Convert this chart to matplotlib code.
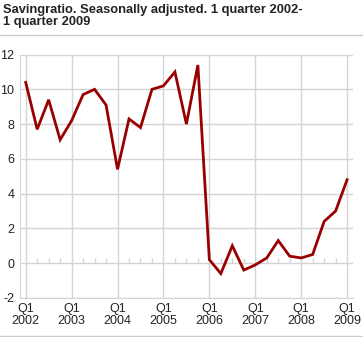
import numpy as np
import matplotlib
matplotlib.use("Agg")
import matplotlib.pyplot as plt
from matplotlib.lines import Line2D

plt.rcParams['font.family'] = ['Liberation Sans', 'DejaVu Sans']

# Savingratio, quarterly, 2002Q1 - 2009Q1
values = [10.4, 7.7, 9.4, 7.1, 8.2, 9.7, 10.0, 9.1,
          5.4, 8.3, 7.8, 10.0, 10.2, 11.0, 8.0, 11.4,
          0.2, -0.6, 1.0, -0.4, -0.1, 0.3, 1.3, 0.4,
          0.3, 0.5, 2.4, 3.0, 4.8]
years = [2002, 2003, 2004, 2005, 2006, 2007, 2008, 2009]
yticks = [-2, 0, 2, 4, 6, 8, 10, 12]

x = np.arange(len(values))
q1_pos = [4 * i for i in range(len(years))]
q1_labels = ['Q1\n%d' % y for y in years]

fig = plt.figure(figsize=(3.63, 3.37), dpi=100)
ax = fig.add_axes([0.055, 0.116, 0.917, 0.722])

grid_col = '#d4d4d4'
for yv in yticks:
    ax.axhline(yv, color=grid_col, lw=1, zorder=1)
for xv in q1_pos:
    ax.axvline(xv, color=grid_col, lw=1, zorder=1)

# small quarter ticks on the zero line
minor = [i for i in x if i % 4 != 0]
ax.vlines(minor, 0, 0.3, color=grid_col, lw=1, zorder=1)

ax.plot(x, values, color='#990000', lw=2, zorder=3, solid_joinstyle='miter')

ax.set_xlim(-0.5, len(values) - 0.5)
ax.set_ylim(-2, 12)
ax.set_yticks(yticks)
ax.set_yticklabels([str(v) for v in yticks], fontsize=9, color='#222222')
ax.set_xticks(q1_pos)
ax.set_xticklabels(q1_labels, fontsize=9, color='#222222', linespacing=1.0)
ax.tick_params(length=0)
ax.tick_params(axis='y', pad=4)
ax.tick_params(axis='x', pad=4)

for s in ['top', 'right']:
    ax.spines[s].set_visible(False)
ax.spines['left'].set_color(grid_col)
ax.spines['bottom'].set_color(grid_col)

fig.text(0.008, 0.988, 'Savingratio. Seasonally adjusted. 1 quarter 2002-\n1 quarter 2009',
         fontsize=9.3, fontweight='bold', va='top', ha='left', color='#222222',
         linespacing=1.05)
fig.add_artist(Line2D([0, 1], [1 - 35 / 337] * 2, color='#cccccc', lw=1))
fig.add_artist(Line2D([0, 1], [1 - 336 / 337] * 2, color='#cccccc', lw=1))

fig.savefig('out.png', dpi=100)
